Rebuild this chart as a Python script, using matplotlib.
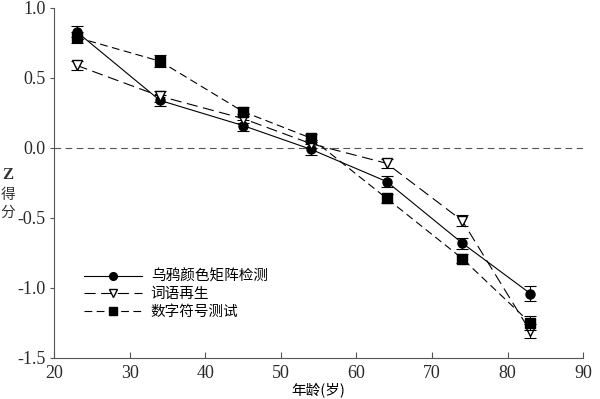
import matplotlib
matplotlib.use('Agg')
import matplotlib.pyplot as plt
import numpy as np

plt.rcParams['font.family'] = ['Noto Sans CJK SC', 'DejaVu Sans']

ages = [23, 34, 45, 54, 64, 74, 83]

crow = [0.83, 0.34, 0.16, -0.01, -0.24, -0.68, -1.04]
crow_err = [0.04, 0.04, 0.04, 0.04, 0.04, 0.04, 0.055]
words = [0.59, 0.37, 0.21, 0.03, -0.11, -0.52, -1.31]
words_err = [0.03, 0.04, 0.03, 0.03, 0.03, 0.04, 0.05]
digit = [0.79, 0.62, 0.26, 0.07, -0.36, -0.79, -1.25]
digit_err = [0.04, 0.045, 0.03, 0.03, 0.03, 0.03, 0.05]

labels = ['乌鸦颜色矩阵检测', '词语再生', '数字符号测试']

fig = plt.figure(figsize=(6, 3.99), dpi=100)
ax = fig.add_axes([0.09, 0.103, 0.882, 0.877])

ax.axhline(0, color='#555555', lw=0.8, dashes=(6, 4), zorder=1)

series = [
    (crow, crow_err, 'o', '-', 'black'),
    (words, words_err, 'v', (0, (10, 5)), 'white'),
    (digit, digit_err, 's', (0, (7, 4)), 'black'),
]
for (vals, errs, mk, ls, fc), lab in zip(series, labels):
    ax.errorbar(ages, vals, yerr=errs, fmt='none', ecolor='black',
                elinewidth=0.8, capsize=4, capthick=0.8)
    ax.plot(ages, vals, color='black', lw=0.8, linestyle=ls, marker=mk,
            markersize=6.5, markerfacecolor=fc, markeredgecolor='black',
            label=lab)

ax.set_xlim(20, 90)
ax.set_ylim(-1.5, 1.0)
ax.set_xticks(np.arange(20, 91, 10))
ax.set_yticks([-1.5, -1.0, -0.5, 0.0, 0.5, 1.0])
ax.set_yticklabels(['-1.5', '-1.0', '-0.5', '0.0', '0.5', '1.0'])
for lab in ax.get_xticklabels() + ax.get_yticklabels():
    lab.set_fontfamily(['Liberation Serif', 'DejaVu Serif'])
    lab.set_fontsize(13)
    lab.set_color('#2a2a2a')

ax.spines['top'].set_visible(False)
ax.spines['right'].set_visible(False)
ax.spines['left'].set_color('#555555')
ax.spines['bottom'].set_color('#555555')
ax.tick_params(axis='x', direction='in', length=4, color='#555555', pad=5)
ax.tick_params(axis='y', direction='out', length=3, color='#555555', pad=3)

ax.set_xlabel('年龄(岁)', fontsize=10.5, labelpad=1)

fig.text(0.013, 1 - 175 / 399, 'Z', fontsize=12, fontweight='bold',
         family=['Liberation Serif'], ha='center', va='center', color='#333333')
fig.text(0.013, 1 - 195 / 399, '得', fontsize=10.5, ha='center', va='center', color='#333333')
fig.text(0.013, 1 - 213 / 399, '分', fontsize=10.5, ha='center', va='center', color='#333333')

ax.legend(loc='upper left', bbox_to_anchor=(0.045, 0.27), frameon=False,
          numpoints=1, handlelength=4.0, fontsize=10.5, labelspacing=0.25,
          handletextpad=0.6, borderaxespad=0, markerscale=0.85)

fig.savefig('out.png', dpi=100)
